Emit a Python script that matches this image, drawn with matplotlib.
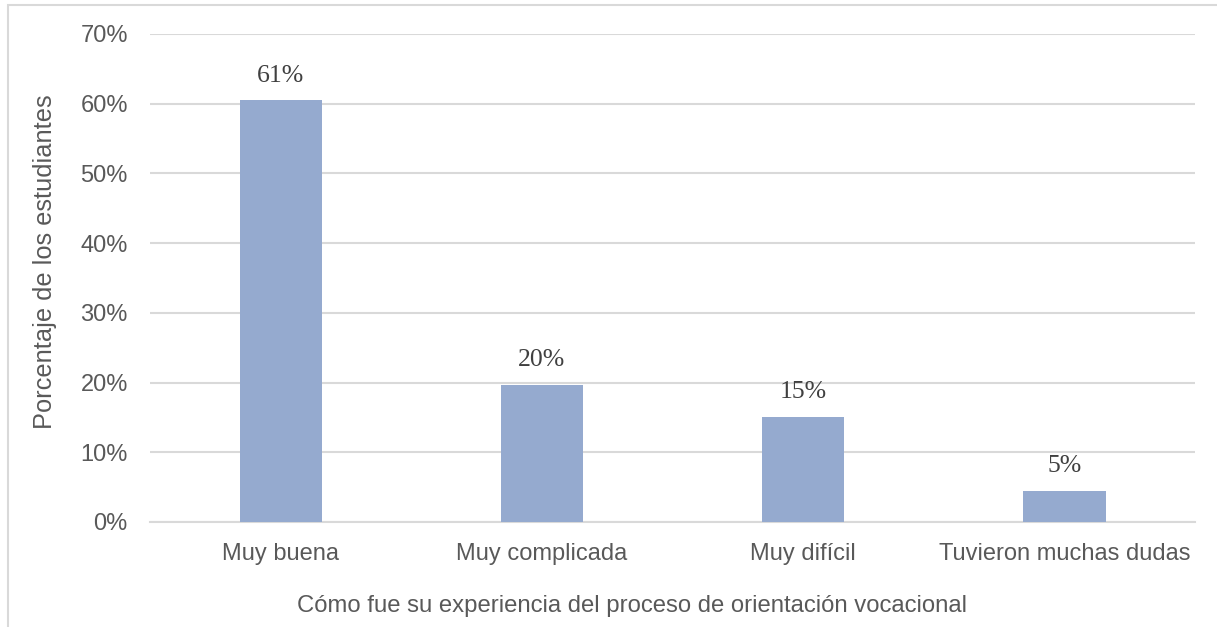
import matplotlib
matplotlib.use('Agg')
import matplotlib.pyplot as plt
import matplotlib.patches as mpatches

categories = ['Muy buena', 'Muy complicada', 'Muy difícil', 'Tuvieron muchas dudas']
values = [60.5, 19.7, 15.1, 4.5]
labels = ['61%', '20%', '15%', '5%']
yticks = [0, 10, 20, 30, 40, 50, 60, 70]

txt = '#595959'
grid = '#d9d9d9'

plt.rcParams['font.family'] = ['Liberation Sans', 'DejaVu Sans']

fig = plt.figure(figsize=(12.17, 6.27), dpi=100)
ax = fig.add_axes([0.1233, 0.1675, 0.8587, 0.7783])

x = range(len(categories))
bars = ax.bar(x, values, width=0.315, color='#95AACF', zorder=3)
for b, lab in zip(bars, labels):
    ax.text(b.get_x() + b.get_width() / 2, b.get_height() + 1.9, lab,
            ha='center', va='bottom', fontsize=18.5, color='#404040',
            family='Liberation Serif')

ax.set_xlim(-0.5, len(categories) - 0.5)
ax.set_ylim(0, 70)
ax.set_yticks(yticks)
ax.set_yticklabels([f'{v}%' for v in yticks])
ax.set_xticks(list(x))
ax.set_xticklabels(categories)
ax.tick_params(axis='both', length=0, labelsize=17, colors=txt)
ax.tick_params(axis='x', pad=15)
ax.tick_params(axis='y', pad=16)
ax.yaxis.grid(True, color=grid, linewidth=1.5, zorder=0)
for s in ['top', 'right', 'left']:
    ax.spines[s].set_visible(False)
ax.spines['bottom'].set_color(grid)
ax.spines['bottom'].set_linewidth(1.5)

ax.set_ylabel('Porcentaje de los estudiantes', fontsize=18.3, color=txt,
              labelpad=17, y=0.533)
ax.set_xlabel('Cómo fue su experiencia del proceso de orientación vocacional',
              fontsize=17.2, color=txt, labelpad=22, x=0.461)

# light frame around the chart area
frame = mpatches.Rectangle((8 / 1217, -0.2), 1.1, 1.2 - 5 / 627, transform=fig.transFigure,
                           fill=False, edgecolor=grid, linewidth=1.5)
fig.add_artist(frame)

fig.savefig('out.png', dpi=100)
